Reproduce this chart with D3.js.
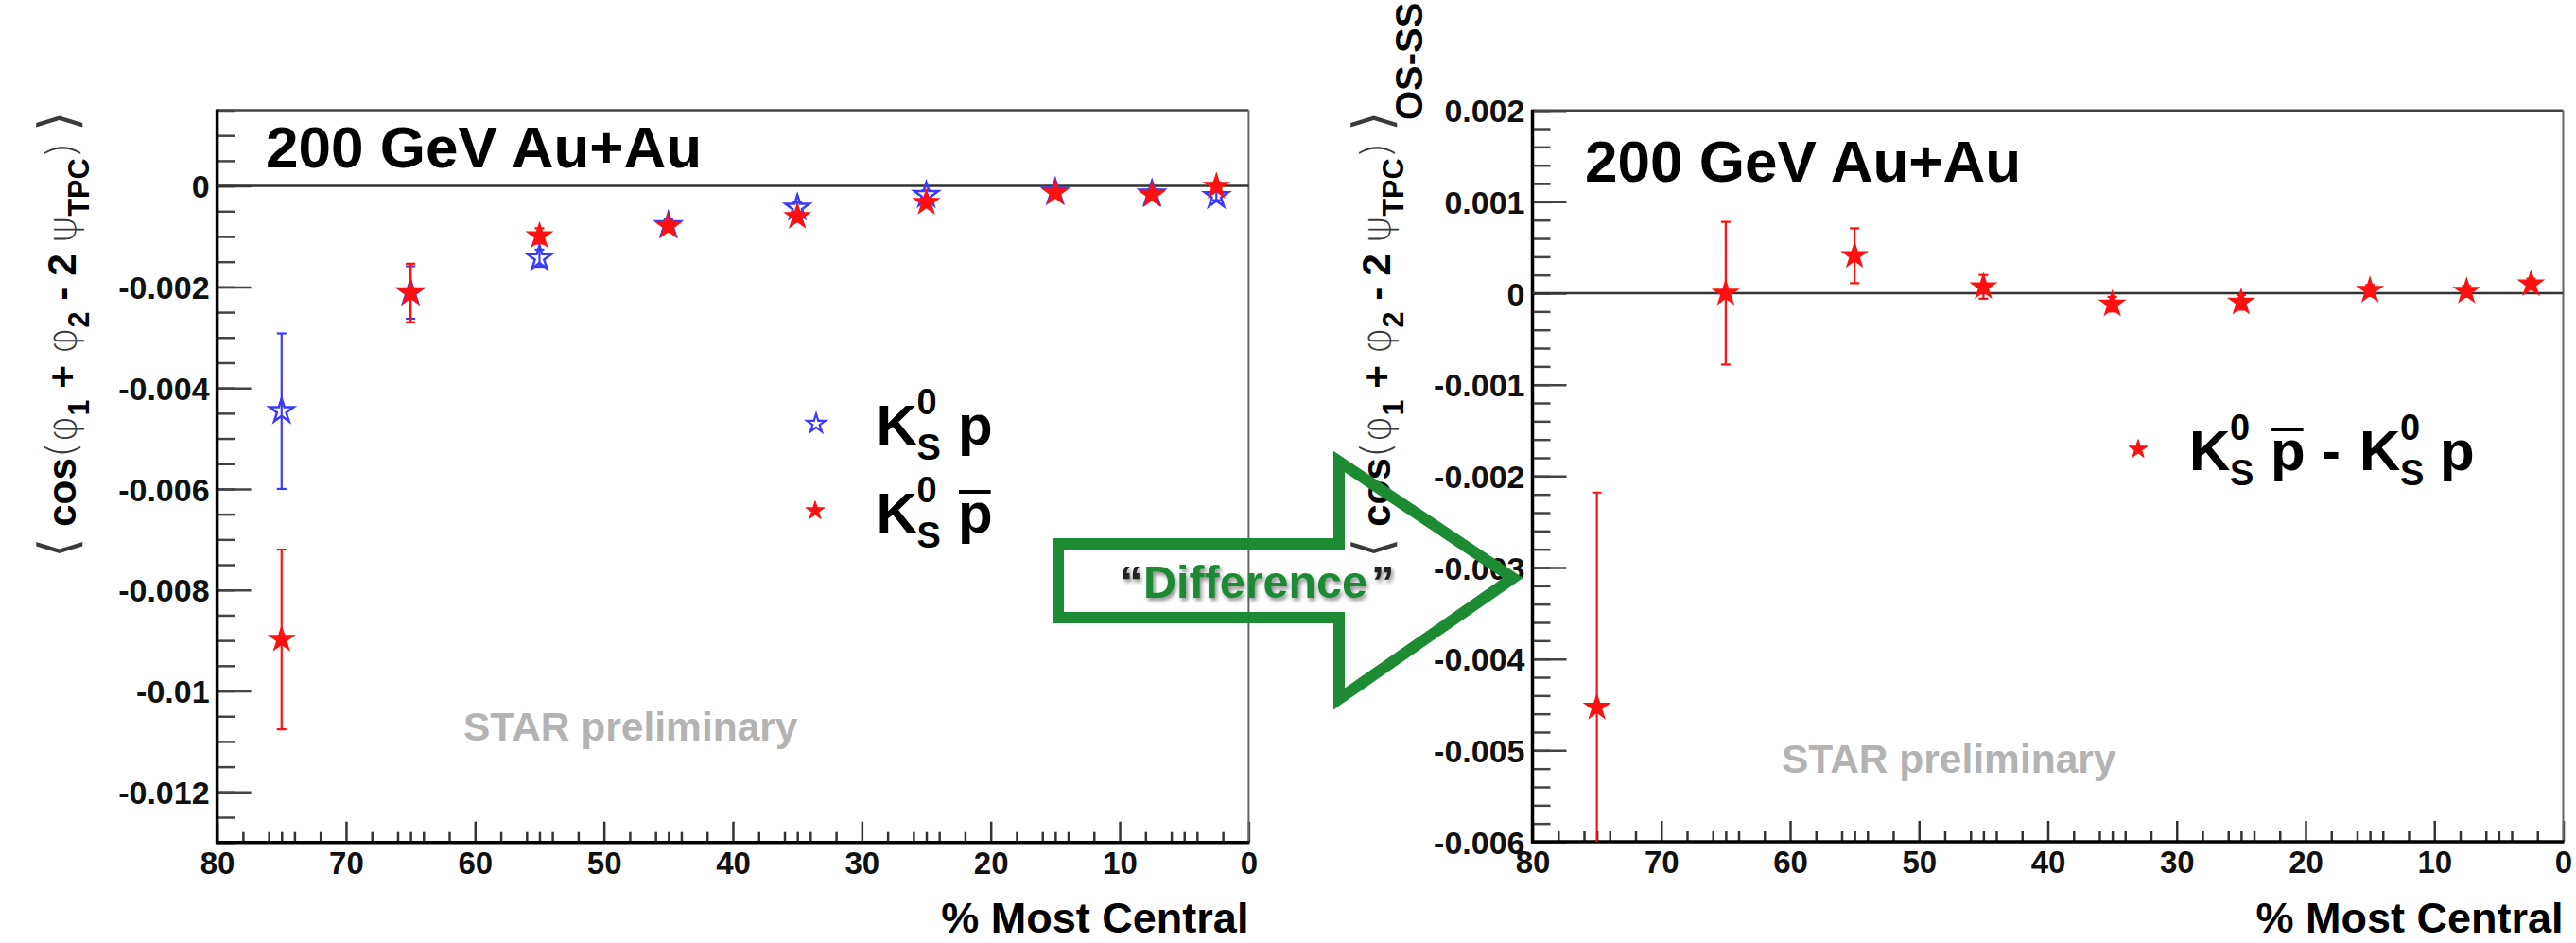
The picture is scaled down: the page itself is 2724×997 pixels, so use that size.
<!DOCTYPE html>
<html><head><meta charset="utf-8">
<script src="https://cdn.jsdelivr.net/npm/d3@7"></script>
<style>
body{margin:0;background:#fff}
svg{display:block}
text{font-family:"Liberation Sans",Arial,Helvetica,sans-serif}
</style>
</head><body>
<svg id="c" width="2724" height="997"></svg>
<script>
// ---------------- DATA ----------------
const centrality   = [75, 65, 55, 45, 35, 25, 15, 7.5, 2.5];
const k0sP         = [-0.00446, -0.00211, -0.00143, -0.00078, -0.00043, -0.00018, -0.00012, -0.00015, -0.00020];
const k0sPErr      = [0.00154, 0.00052, 0.00017, 0.00012, 0.00010, 0.00009, 0.00008, 0.00008, 0.00008];
const k0sPbar      = [-0.00898, -0.00212, -0.00099, -0.00080, -0.00061, -0.00033, -0.00014, -0.00018, -0.00001];
const k0sPbarErr   = [0.00178, 0.00058, 0.00015, 0.00011, 0.00010, 0.00009, 0.00008, 0.00008, 0.00008];
const diffVal      = [-0.00453, 0.00000, 0.00041, 0.00007, -0.00012, -0.00010, 0.00003, 0.00002, 0.00010];
const diffErr      = [0.00235, 0.00078, 0.00030, 0.00013, 0.00008, 0.00008, 0.00006, 0.00006, 0.00006];
const xTickValues  = [80, 70, 60, 50, 40, 30, 20, 10, 0];
const leftYTicks   = [0, -0.002, -0.004, -0.006, -0.008, -0.01, -0.012];
const rightYTicks  = [0.002, 0.001, 0, -0.001, -0.002, -0.003, -0.004, -0.005, -0.006];
const titleText    = "200 GeV Au+Au";
const xTitle       = "% Most Central";
const watermark    = "STAR preliminary";

// ---------------- SETUP ----------------
const svg = d3.select('#c');
svg.append('rect').attr('width',2724).attr('height',997).attr('fill','#fff');
const FONT = '"Liberation Sans",Arial,Helvetica,sans-serif';
const BLUE = '#3a3aff', RED = '#ff1010';
const fmt = v => String(+v.toFixed(4));

const defs = svg.append('defs');
const shadow = defs.append('filter').attr('id','shd').attr('x','-10%').attr('y','-20%').attr('width','130%').attr('height','160%');
shadow.append('feDropShadow').attr('dx',2).attr('dy',3).attr('stdDeviation',2).attr('flood-color','#000').attr('flood-opacity',0.45);

function makePanel(o) {
  const x = d3.scaleLinear().domain([80, 0]).range([o.x0, o.x1]);
  const y = d3.scaleLinear().domain(o.yDomain).range([o.yb, o.yt]);
  const g = svg.append('g');
  const cid = 'clip' + o.id;
  defs.append('clipPath').attr('id', cid).append('rect')
    .attr('x', o.x0).attr('y', o.yt).attr('width', o.x1 - o.x0).attr('height', o.yb - o.yt);

  const yMinor = d3.range(o.yDomain[0], o.yDomain[1] + 1e-9, o.yMinorStep);
  const gyMin = g.append('g').attr('transform', `translate(${o.x0},0)`)
    .call(d3.axisLeft(y).tickValues(yMinor).tickSize(-19).tickFormat(''));
  gyMin.select('.domain').remove();
  gyMin.selectAll('line').attr('stroke','#444').attr('stroke-width',2.5);

  const gy = g.append('g').attr('transform', `translate(${o.x0},0)`)
    .call(d3.axisLeft(y).tickValues(o.yTicks).tickSize(-36).tickPadding(8).tickFormat(fmt));
  gy.select('.domain').remove();
  gy.attr('font-family', FONT).attr('font-size', 34).attr('font-weight','bold');
  gy.selectAll('line').attr('stroke','#444').attr('stroke-width',2.5);
  gy.selectAll('text').attr('fill','#111').attr('dy','0.36em');

  const xMinor = [];
  xTickValues.forEach(m => { if (m < 80) [2,4,5,6,8].forEach(k => xMinor.push(m + k)); });
  const gxMin = g.append('g').attr('transform', `translate(0,${o.yb})`)
    .call(d3.axisBottom(x).tickValues(xMinor).tickSize(-11).tickFormat(''));
  gxMin.select('.domain').remove();
  gxMin.selectAll('line').attr('stroke','#333').attr('stroke-width',2.5);

  const gx = g.append('g').attr('transform', `translate(0,${o.yb})`)
    .call(d3.axisBottom(x).tickValues(xTickValues).tickSize(-22).tickPadding(10).tickFormat(d => d));
  gx.select('.domain').remove();
  gx.attr('font-family', FONT).attr('font-size', 33).attr('font-weight','bold');
  gx.selectAll('line').attr('stroke','#333').attr('stroke-width',2.5);
  gx.selectAll('text').attr('fill','#111');

  g.append('line').attr('x1',o.x0).attr('x2',o.x1).attr('y1',o.yt).attr('y2',o.yt).attr('stroke','#444').attr('stroke-width',2.5);
  g.append('line').attr('x1',o.x1).attr('x2',o.x1).attr('y1',o.yt).attr('y2',o.yb).attr('stroke','#666').attr('stroke-width',2);
  g.append('line').attr('x1',o.x0).attr('x2',o.x0).attr('y1',o.yt-1).attr('y2',o.yb+1.5).attr('stroke','#000').attr('stroke-width',3.5);
  g.append('line').attr('x1',o.x0-1.5).attr('x2',o.x1+1).attr('y1',o.yb).attr('y2',o.yb).attr('stroke','#000').attr('stroke-width',3.5);
  g.append('line').attr('x1',o.x0).attr('x2',o.x1).attr('y1',y(0)).attr('y2',y(0)).attr('stroke','#333').attr('stroke-width',2.5);

  g.append('text').attr('x',o.titleX).attr('y',o.titleY).attr('font-size',62).attr('font-weight','bold').attr('fill','#000').text(titleText);
  g.append('text').attr('x',o.wmX).attr('y',o.wmY).attr('font-size',42.5).attr('font-weight','bold').attr('fill','#b3b3b3').text(watermark);
  g.append('text').attr('x',o.x1).attr('y',986).attr('text-anchor','end').attr('font-size',45).attr('font-weight','bold').attr('fill','#000').text(xTitle);

  const marks = g.append('g').attr('clip-path', `url(#${cid})`);
  return {x, y, g, marks};
}

function drawSeries(p, xs, vals, errs, color, open) {
  const d = xs.map((c, i) => ({c, v: vals[i], e: errs[i]}));
  const eg = p.marks.append('g').attr('stroke', color).attr('stroke-width', 2.2);
  eg.selectAll('line.v').data(d).join('line').attr('class','v')
    .attr('x1', q => p.x(q.c)).attr('x2', q => p.x(q.c))
    .attr('y1', q => p.y(q.v - q.e)).attr('y2', q => p.y(q.v + q.e));
  eg.selectAll('line.t').data(d).join('line').attr('class','t')
    .attr('x1', q => p.x(q.c) - 5).attr('x2', q => p.x(q.c) + 5)
    .attr('y1', q => p.y(q.v + q.e)).attr('y2', q => p.y(q.v + q.e));
  eg.selectAll('line.b').data(d).join('line').attr('class','b')
    .attr('x1', q => p.x(q.c) - 5).attr('x2', q => p.x(q.c) + 5)
    .attr('y1', q => p.y(q.v - q.e)).attr('y2', q => p.y(q.v - q.e));
  const sym = d3.symbol(d3.symbolStar, 200);
  p.marks.append('g').selectAll('path').data(d).join('path')
    .attr('d', sym)
    .attr('transform', q => `translate(${p.x(q.c)},${p.y(q.v)})`)
    .attr('fill', open ? 'none' : color)
    .attr('stroke', color).attr('stroke-width', open ? 2.5 : 1.5);
}

function yTitle(xb, yc, targetLen) {
  const g = svg.append('g').attr('transform', `translate(${xb},${yc}) rotate(-90)`);
  const parts = [
    ['\u27E8', 'br', 0], [' ', 'bold', 0], ['cos', 'bold', 0], ['(', 'normal', 0], ['\u03C6', 'normal', 0],
    ['1', 'bold', 1], [' + ', 'bold', 0], ['\u03C6', 'normal', 0], ['2', 'bold', 1],
    [' - 2 ', 'bold', 0], ['\u03C8', 'normal', 0], ['TPC', 'bold', 1], [')', 'normal', 0], [' ', 'bold', 0], ['\u27E9', 'br', 0]
  ];
  function build(fs) {
    g.selectAll('*').remove();
    const t = g.append('text').attr('text-anchor','middle').attr('font-size',fs).attr('fill','#000')
      .style('white-space','pre');
    const sh = fs * 0.33;
    let shifted = false;
    parts.forEach(([s, w, sub]) => {
      const ts = t.append('tspan').text(s);
      if (w === 'bold') ts.attr('font-weight','bold');
      else {
        ts.attr('fill', '#3a3a3a').attr('font-family','"DejaVu Sans","Liberation Sans",sans-serif').attr('font-weight','200');
        if (w === 'br') ts.attr('font-size', fs * 1.3);
      }
      if (sub) { ts.attr('dy', sh).attr('font-size', fs * 0.72); shifted = true; }
      else if (shifted) { ts.attr('dy', -sh); shifted = false; }
    });
    return t;
  }
  const t0 = build(46);
  const w = t0.node().getComputedTextLength();
  build(46 * targetLen / w);
}

// ---------------- PANELS ----------------
const left = makePanel({id:'L', x0:229.6, x1:1320.4, yt:116.5, yb:890.7, yDomain:[-0.013, 0.0015],
  yMinorStep:0.0005, yTicks:leftYTicks, titleX:281, titleY:177, wmX:490, wmY:783});
const right = makePanel({id:'R', x0:1620.5, x1:2710.5, yt:116.7, yb:890, yDomain:[-0.006, 0.002],
  yMinorStep:0.0002, yTicks:rightYTicks, titleX:1676, titleY:191.7, wmX:1884, wmY:816.7});

drawSeries(left, centrality, k0sP, k0sPErr, BLUE, true);
drawSeries(left, centrality, k0sPbar, k0sPbarErr, RED, false);
drawSeries(right, centrality, diffVal, diffErr, RED, false);

yTitle(80, 354, 472);
yTitle(1470, 354, 472);
svg.append('text').attr('transform','translate(1504,127) rotate(-90)')
  .attr('font-family','"Open Sans","Noto Sans",sans-serif').attr('font-weight','bold')
  .attr('font-size',40).attr('fill','#000').text('OS-SS');

// ---------------- LEGENDS ----------------
function kaon(x, base) {
  svg.append('text').attr('x',x).attr('y',base).attr('font-size',60).attr('font-weight','bold').text('K');
  svg.append('text').attr('x',x+43).attr('y',base-32).attr('font-size',38).attr('font-weight','bold').text('0');
  svg.append('text').attr('x',x+43).attr('y',base+16).attr('font-size',38).attr('font-weight','bold').text('S');
}
function proton(x, base, bar) {
  const t = svg.append('text').attr('x',x).attr('y',base).attr('font-size',60).attr('font-weight','bold').text('p');
  if (bar) {
    const w = t.node().getComputedTextLength();
    svg.append('line').attr('x1',x+1).attr('x2',x+w-2).attr('y1',base-43).attr('y2',base-43).attr('stroke','#000').attr('stroke-width',4);
  }
}
const legSym = d3.symbol(d3.symbolStar, 120);
svg.append('path').attr('d',legSym).attr('transform','translate(863,448)').attr('fill','none').attr('stroke',BLUE).attr('stroke-width',2.2);
kaon(926.5, 470); proton(1013, 470, false);
svg.append('path').attr('d',legSym).attr('transform','translate(862,540)').attr('fill',RED).attr('stroke',RED);
kaon(926.5, 563); proton(1013, 563, true);
svg.append('path').attr('d',legSym).attr('transform','translate(2261,475)').attr('fill',RED).attr('stroke',RED);
kaon(2315, 497); proton(2401, 497, true);
svg.append('text').attr('x',2455).attr('y',497).attr('font-size',60).attr('font-weight','bold').text('-');
kaon(2495, 497); proton(2580, 497, false);

// ---------------- "Difference" ARROW ----------------
const GREEN = '#1d8a34';
const arrow = [[1119,575],[1416,575],[1416,488],[1600,611],[1416,739],[1416,653],[1119,653]];
svg.append('path').attr('d', d3.line()(arrow) + 'Z')
  .attr('fill','none').attr('stroke',GREEN).attr('stroke-width',12).attr('stroke-linejoin','miter');
const dg = svg.append('g').attr('filter','url(#shd)').attr('font-family','Lato,"Open Sans",sans-serif').attr('font-weight','bold');
dg.append('text').attr('x',1184).attr('y',632).attr('font-size',49).attr('fill','#222').text('\u201C');
dg.append('text').attr('x',1209).attr('y',632).attr('font-size',49).attr('fill',GREEN)
  .attr('textLength',237).attr('lengthAdjust','spacingAndGlyphs').text('Difference');
dg.append('text').attr('x',1450).attr('y',632).attr('font-size',49).attr('fill','#222').text('\u201D');
</script>
</body></html>
